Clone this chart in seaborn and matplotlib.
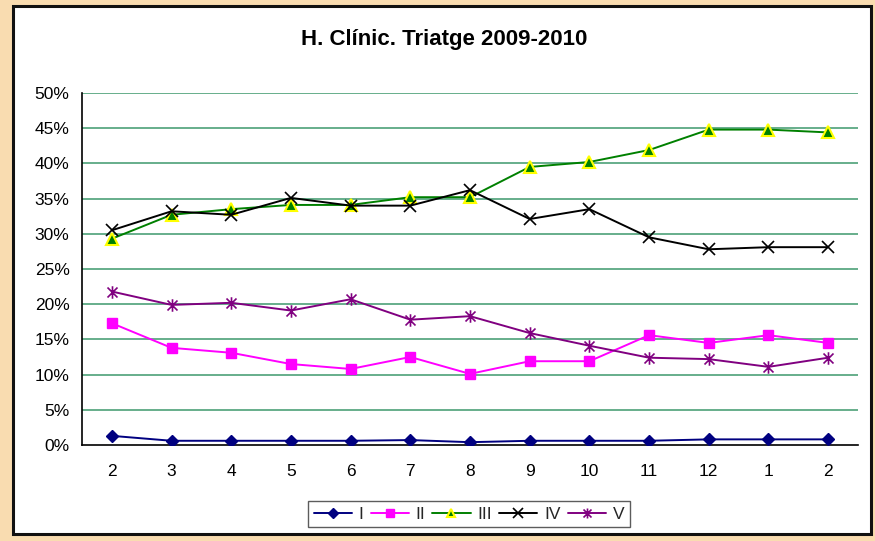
import matplotlib
matplotlib.use("Agg")
import matplotlib.pyplot as plt
from matplotlib.patches import Rectangle
from matplotlib.path import Path
from matplotlib.ticker import FixedLocator, PercentFormatter
import seaborn as sns
import pandas as pd
import numpy as np

months = ["2", "3", "4", "5", "6", "7", "8", "9", "10", "11", "12", "1", "2"]
s_I = [1.3, 0.6, 0.6, 0.6, 0.6, 0.7, 0.4, 0.6, 0.6, 0.6, 0.8, 0.8, 0.8]
s_II = [17.3, 13.8, 13.1, 11.5, 10.8, 12.5, 10.1, 11.9, 11.9, 15.6, 14.5, 15.6, 14.5]
s_III = [29.3, 32.7, 33.5, 34.1, 34.1, 35.2, 35.2, 39.5, 40.2, 41.9, 44.8, 44.8, 44.4]
s_IV = [30.5, 33.2, 32.7, 35.1, 34.0, 34.0, 36.2, 32.1, 33.5, 29.5, 27.8, 28.1, 28.1]
s_V = [21.8, 19.9, 20.2, 19.1, 20.7, 17.8, 18.3, 15.9, 14.1, 12.4, 12.2, 11.1, 12.4]
series_names = ["I", "II", "III", "IV", "V"]

sns.set_theme(style="white")
plt.rcParams["font.family"] = ["Liberation Sans", "DejaVu Sans"]

rows = []
for name, vals in zip(series_names, [s_I, s_II, s_III, s_IV, s_V]):
    for i, v in enumerate(vals):
        rows.append({"pos": i, "value": v, "serie": name})
df = pd.DataFrame(rows)

# Excel-style star marker: an "x" plus a vertical bar
star = Path([(-1, -1), (1, 1), (-1, 1), (1, -1), (0, -1.25), (0, 1.25)],
            [Path.MOVETO, Path.LINETO, Path.MOVETO, Path.LINETO, Path.MOVETO, Path.LINETO])

fig = plt.figure(figsize=(8.75, 5.41), dpi=100)
fig.patch.set_facecolor("#F9DCB0")
W, H = 875, 541

bg = fig.add_axes([0, 0, 1, 1], zorder=-10)
bg.set_xlim(0, W)
bg.set_ylim(H, 0)
bg.axis("off")
bg.add_patch(Rectangle((13, 6), 871 - 13, 534 - 6, facecolor="white",
                       edgecolor="#111111", linewidth=2.2))

ax = fig.add_axes([82 / W, 1 - 445 / H, (858 - 82) / W, (445 - 93) / H], zorder=1)
ax.set_facecolor("none")

styles = {
    "I": dict(color="#000080", marker="D", markersize=6, mfc="#000080", mec="#000080"),
    "II": dict(color="#FF00FF", marker="s", markersize=7, mfc="#FF00FF", mec="#FF00FF"),
    "III": dict(color="#008000", marker="^", markersize=8, mfc="#008000", mec="#FFFF00", mew=1.5),
    "IV": dict(color="#000000", marker="x", markersize=9, mfc="none", mec="#000000", mew=1.2),
    "V": dict(color="#800080", marker=star, markersize=9, mfc="none", mec="#800080", mew=1.2),
}

for y in np.arange(5, 51, 5):
    ax.axhline(y, color="#5aa882", linewidth=1.3, zorder=0)

for name in series_names:
    st = styles[name]
    sub = df[df["serie"] == name]
    sns.lineplot(data=sub, x="pos", y="value", ax=ax, color=st["color"], linewidth=1.4,
                 marker=st["marker"], markersize=st["markersize"],
                 markerfacecolor=st["mfc"], markeredgecolor=st["mec"],
                 markeredgewidth=st.get("mew", 1.0), label=name, legend=False, zorder=3)

n = len(months)
ax.set_xlim(-0.5, n - 0.5)
ax.set_ylim(0, 50)
ax.set_xticks(range(n))
ax.set_xticklabels(months)
ax.xaxis.set_minor_locator(FixedLocator(np.arange(-0.5, n, 1.0)))
ax.tick_params(axis="x", which="major", length=0, pad=14, labelsize=12.5, colors="black")
ax.tick_params(axis="x", which="minor", length=5, width=1, direction="out", color="black")
ax.set_yticks(np.arange(0, 51, 5))
ax.yaxis.set_major_formatter(PercentFormatter(decimals=0))
ax.tick_params(axis="y", length=5, width=1, direction="out", labelsize=12.5, colors="black", pad=4)
ax.set_xlabel("")
ax.set_ylabel("")

for side in ["top", "right"]:
    ax.spines[side].set_visible(False)
for side in ["left", "bottom"]:
    ax.spines[side].set_color("black")
    ax.spines[side].set_linewidth(1.2)

fig.text(444 / W, 1 - 40 / H, "H. Clínic. Triatge 2009-2010", ha="center", va="center",
         fontsize=16, fontweight="bold", color="black")

handles, labels = ax.get_legend_handles_labels()
leg = fig.legend(handles, labels, loc="center", bbox_to_anchor=(469 / W, 1 - 514 / H),
                 ncol=5, frameon=True, fontsize=12.5, handlelength=2.2, handletextpad=0.4,
                 columnspacing=0.4, borderpad=0.3, fancybox=False, markerscale=0.8)
leg.get_frame().set_edgecolor("#333333")
leg.get_frame().set_linewidth(1.0)

fig.savefig("out.png", dpi=100, facecolor=fig.get_facecolor())
